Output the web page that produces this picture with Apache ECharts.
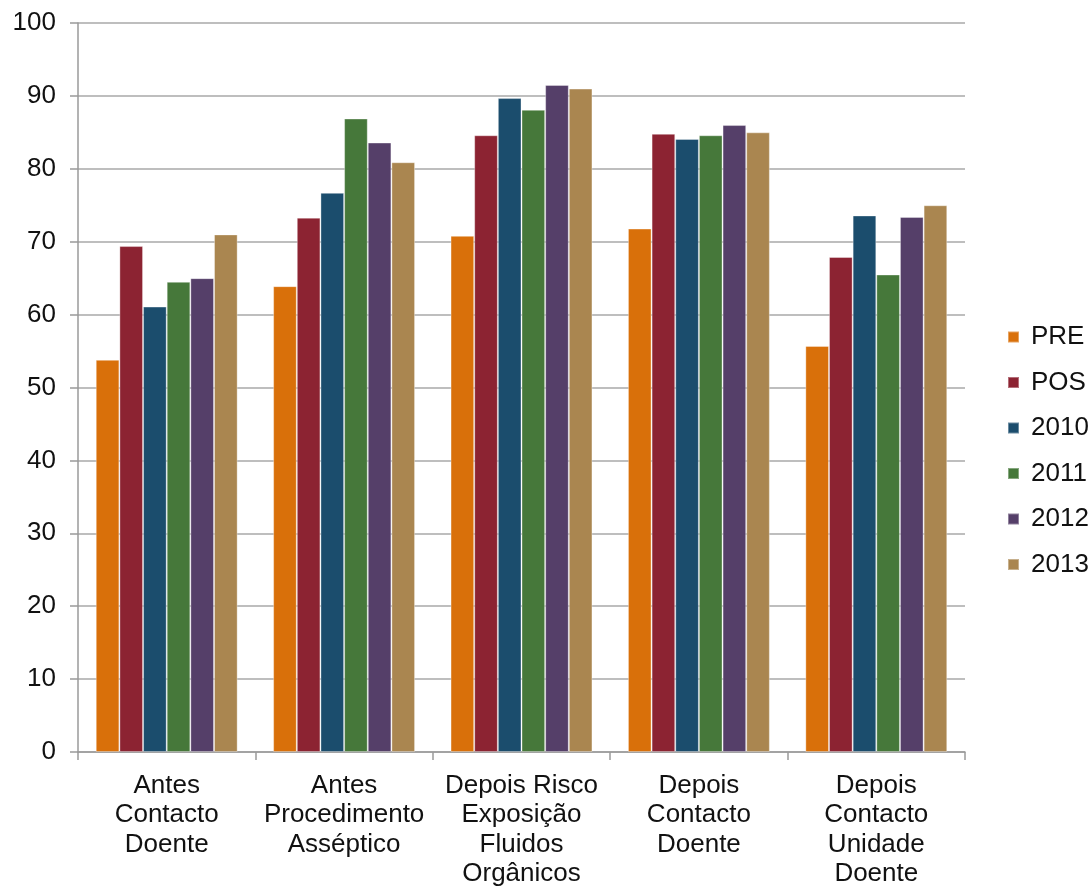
<!DOCTYPE html>
<html>
<head>
<meta charset="utf-8">
<script src="https://cdn.jsdelivr.net/npm/echarts@6/dist/echarts.min.js"></script>
<style>
  html, body { margin: 0; padding: 0; background: #fff; }
  #chart { width: 1091px; height: 888px; }
</style>
</head>
<body>
<div id="chart"></div>
<script>
// Hand-hygiene compliance (%) by moment of care
var categories = [
  'Antes\nContacto\nDoente',
  'Antes\nProcedimento\nAsséptico',
  'Depois Risco\nExposição\nFluidos\nOrgânicos',
  'Depois\nContacto\nDoente',
  'Depois\nContacto\nUnidade\nDoente'
];
var seriesNames = ['PRE', 'POS', '2010', '2011', '2012', '2013'];
var valuesPRE  = [53.8, 63.9, 70.8, 71.8, 55.7];
var valuesPOS  = [69.4, 73.3, 84.6, 84.8, 67.9];
var values2010 = [61.1, 76.7, 89.7, 84.1, 73.6];
var values2011 = [64.5, 86.9, 88.1, 84.6, 65.5];
var values2012 = [65.0, 83.6, 91.5, 86.0, 73.4];
var values2013 = [71.0, 80.9, 91.0, 85.0, 75.0];
var yTicks = [0, 10, 20, 30, 40, 50, 60, 70, 80, 90, 100];

var allValues = [valuesPRE, valuesPOS, values2010, values2011, values2012, values2013];
var colors = ['#D9700A', '#8C2332', '#1B4D6D', '#46783A', '#553F69', '#AA8650'];

var chart = echarts.init(document.getElementById('chart'));
var font = 'Liberation Sans, Arial, sans-serif';

chart.setOption({
  color: colors,
  animation: false,
  grid: { left: 78, right: 126, top: 23, bottom: 136, outerBoundsMode: 'none', containLabel: false },
  legend: {
    orient: 'vertical',
    left: 1007,
    top: 324,
    padding: 0,
    itemWidth: 11,
    itemHeight: 11,
    itemGap: 19.5,
    icon: 'rect',
    textStyle: { fontFamily: font, fontSize: 26, color: '#111', padding: [0, 0, 0, 7] },
    data: seriesNames
  },
  xAxis: {
    type: 'category',
    data: categories,
    axisLine: { lineStyle: { color: '#9a9a9a', width: 1.5 } },
    axisTick: { show: true, length: 8, lineStyle: { color: '#9a9a9a', width: 1.5 } },
    axisLabel: {
      interval: 0,
      margin: 19,
      fontFamily: font,
      fontSize: 26,
      lineHeight: 29.5,
      color: '#111'
    }
  },
  yAxis: {
    type: 'value',
    min: yTicks[0],
    max: yTicks[yTicks.length - 1],
    interval: 10,
    axisLine: { show: true, lineStyle: { color: '#9a9a9a', width: 1.5 } },
    axisTick: { show: true, length: 8, lineStyle: { color: '#9a9a9a', width: 1.5 } },
    splitLine: { lineStyle: { color: '#a8a8a8', width: 1.5 } },
    axisLabel: { fontFamily: font, fontSize: 26, color: '#111', margin: 22 }
  },
  series: seriesNames.map(function (name, i) {
    return {
      name: name,
      type: 'bar',
      data: allValues[i],
      barGap: '0%',
      barCategoryGap: '20%',
      itemStyle: { borderColor: 'rgba(255,255,255,0.35)', borderWidth: 1 }
    };
  })
});
</script>
</body>
</html>
